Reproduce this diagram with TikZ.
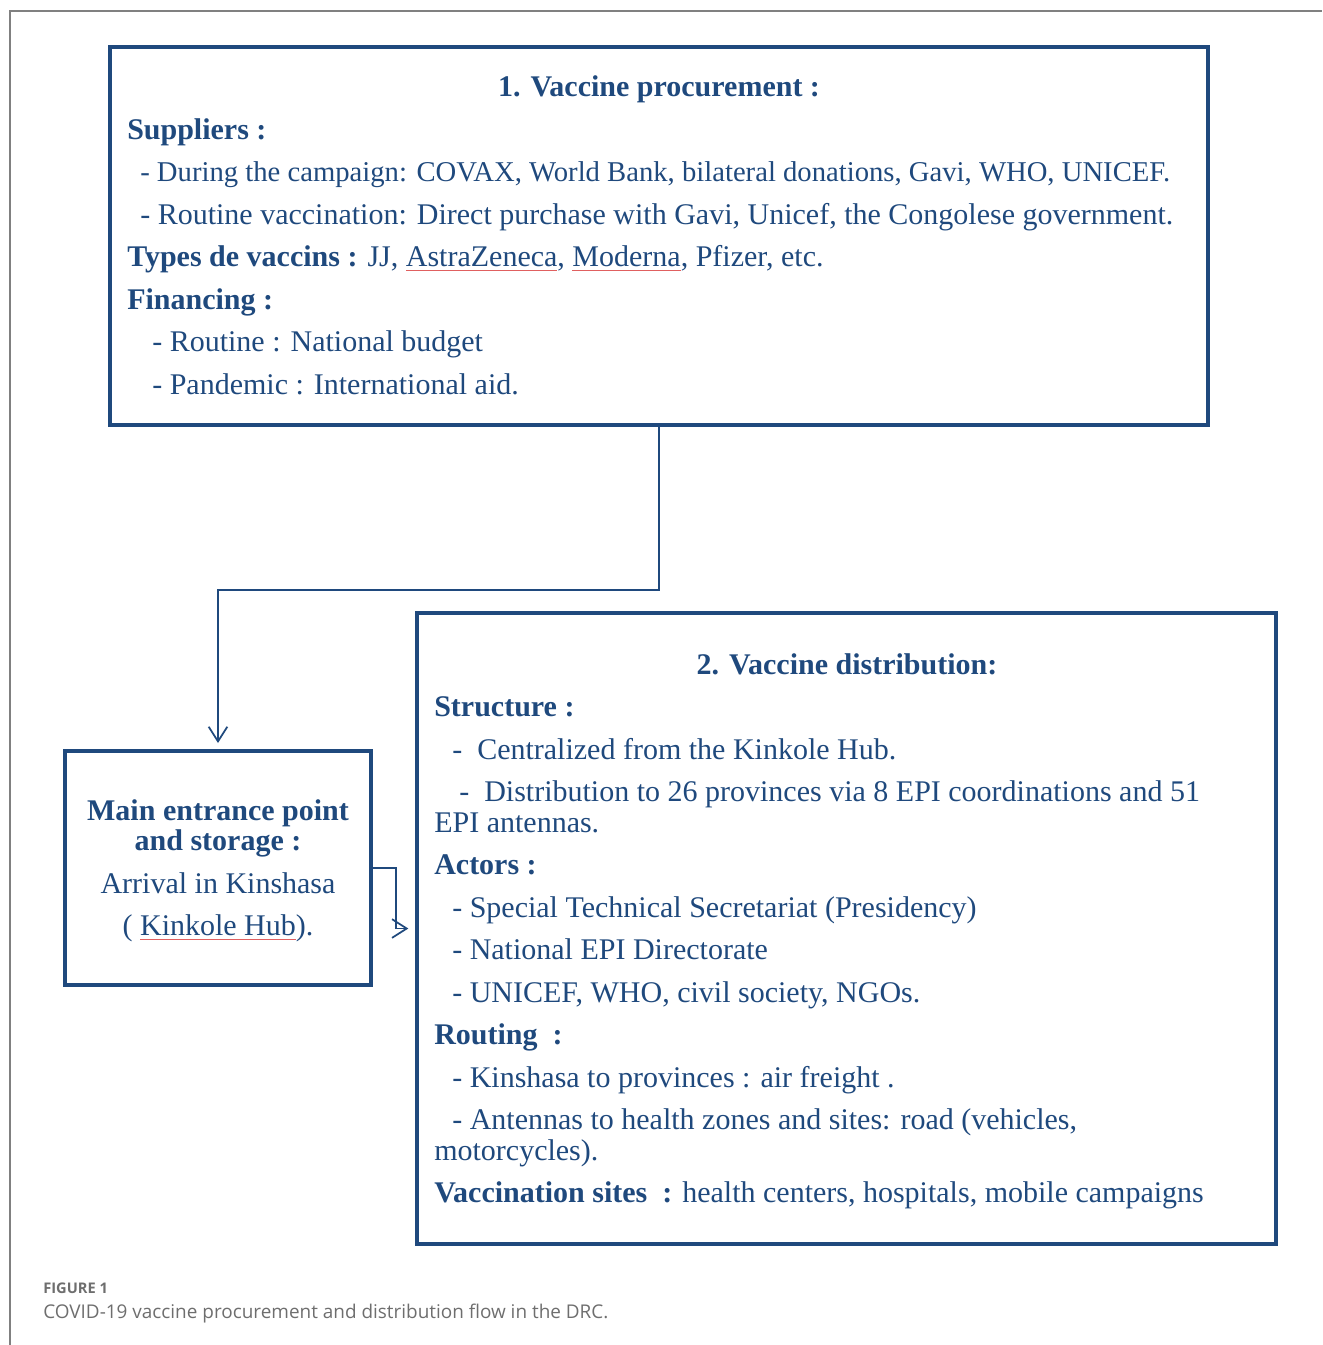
\documentclass[tikz,border=0pt]{standalone}
\usepackage{fontspec}
\setmainfont{Liberation Serif}
\newfontfamily\captfont{Open Sans}
\usetikzlibrary{arrows.meta, fit, positioning}
\definecolor{drcNavy}{HTML}{1F497D}
\definecolor{drcGrey}{HTML}{6E6E6E}
\definecolor{drcFrame}{HTML}{808080}
\definecolor{drcRed}{HTML}{E06060}
% spell-check underline, as in the source
\newcommand{\spellmark}[1]{\setbox0\hbox{#1}\rlap{\textcolor{drcRed}{\rule[-3.5pt]{\wd0}{0.5pt}}}\box0}
\tikzset{
  % one unit = one pixel of the original figure, y grows downwards
  every picture/.append style = {x=0.75pt, y=-0.75pt},
  box/.style   = {draw=drcNavy, line width=3pt, inner sep=0pt},
  conn/.style  = {-{Straight Barb[length=11pt, width=14pt]}, drcNavy, line width=1.3pt},
  lbl/.style   = {inner sep=0pt, anchor=base west, text=drcNavy,
                  font=\fontsize{22.5}{27}\selectfont},
  hd/.style    = {lbl, font=\fontsize{22.5}{27}\selectfont\bfseries},
  capt/.style  = {inner sep=0pt, anchor=base west, text=drcGrey},
}

\begin{document}
\begin{tikzpicture}
  \useasboundingbox (0,0) rectangle (1322,1345);
  % figure frame
  \draw[drcFrame, line width=0.9pt] (10,1345) -- (10,11) -- (1322,11);
  % boxes
  \node[box, fit={(110,47) (1208,425)}] (proc) {};
  \node[box, fit={(417,613) (1276,1244)}] (distrib) {};
  \node[box, fit={(65,751) (371,985)}] (entry) {};
  % 1. procurement
  \node[hd, anchor=base] (procT) at (659,97) {1. Vaccine procurement :};
  \node[hd] (sup) at (127,139) {Suppliers :};
  \node[lbl, font=\fontsize{21.5}{27}\selectfont] (sup1) at (140,181) {- During the campaign: COVAX, World Bank, bilateral donations, Gavi, WHO, UNICEF.};
  \node[lbl] (sup2) at (140,224) {- Routine vaccination: Direct purchase with Gavi, Unicef, the Congolese government.};
  \node[lbl] (types) at (127,266) {\textbf{Types de vaccins :} JJ, \spellmark{AstraZeneca}, \spellmark{Moderna}, Pfizer, etc.};
  \node[hd] (fin) at (127,309) {Financing :};
  \node[lbl] (fin1) at (152,351) {- Routine : National budget};
  \node[lbl] (fin2) at (152,394) {- Pandemic : International aid.};
  % entrance point
  \node[hd, anchor=base] (entryA) at (218,820) {Main entrance point};
  \node[hd, anchor=base] (entryB) at (218,850) {and storage :};
  \node[lbl, anchor=base] (entryC) at (218,893) {Arrival in Kinshasa};
  \node[lbl, anchor=base] (entryD) at (218,935) {( \spellmark{Kinkole Hub}).};
  % 2. distribution
  \node[hd, anchor=base] (distT) at (847,674) {2. Vaccine distribution:};
  \node[hd] (struc) at (434,716) {Structure :};
  \node[lbl] (struc1) at (452,759) {-\ \ Centralized from the Kinkole Hub.};
  \node[lbl] (struc2) at (459,801) {-\ \ Distribution to 26 provinces via 8 EPI coordinations and 51};
  \node[lbl] (struc3) at (434,832) {EPI antennas.};
  \node[hd] (act) at (434,874) {Actors :};
  \node[lbl] (act1) at (452,917) {- Special Technical Secretariat (Presidency)};
  \node[lbl] (act2) at (452,959) {- National EPI Directorate};
  \node[lbl] (act3) at (452,1002) {- UNICEF, WHO, civil society, NGOs.};
  \node[hd] (rout) at (434,1044) {Routing\ \ :};
  \node[lbl] (rout1) at (452,1087) {- Kinshasa to provinces : air freight .};
  \node[lbl] (rout2) at (452,1129) {- Antennas to health zones and sites: road (vehicles,};
  \node[lbl] (rout3) at (434,1160) {motorcycles).};
  \node[lbl] (sites) at (434,1202) {\textbf{Vaccination sites\ \ :} health centers, hospitals, mobile campaigns};
  % connectors
  \draw[conn] (proc.south) -- ++(0,163) -| ([yshift=4.5pt]entry.north);
  \draw[conn] (entry.east) -- ++(23,0) |- ([xshift=-5pt]distrib.west);
  % caption
  \node[capt, font=\captfont\bfseries\fontsize{11}{13}\selectfont] (figno) at (43,1293) {FIGURE 1};
  \node[capt, font=\captfont\fontsize{14.2}{17}\selectfont] (figcap) at (43,1318) {COVID-19 vaccine procurement and distribution flow in the DRC.};
\end{tikzpicture}
\end{document}
